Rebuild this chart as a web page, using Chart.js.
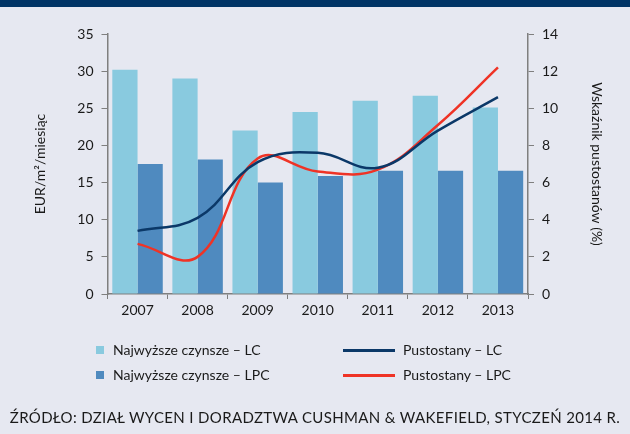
<!DOCTYPE html>
<html>
<head>
<meta charset="utf-8">
<script src="https://cdn.jsdelivr.net/npm/chart.js@4/dist/chart.umd.min.js"></script>
<style>
    html, body {
        margin: 0;
        padding: 0;
        background: #e6e8f1;
        font-family: Lato, sans-serif;
        color: #1a1a1a;
    }
    #wrap {
        position: relative;
        width: 630px;
        height: 434px;
        overflow: hidden;
    }
    #band {
        position: absolute;
        left: 0;
        top: 0;
        width: 630px;
        height: 7px;
        background: #003466;
    }
    canvas {
        position: absolute;
        left: 0;
        top: 0;
    }
    .leg {
        position: absolute;
        font-size: 14px;
        line-height: 16px;
        white-space: nowrap;
    }
    .sw {
        position: absolute;
        top: 4px;
    }
    #source {
        position: absolute;
        left: 0;
        width: 630px;
        top: 408px;
        text-align: center;
        font-size: 15px;
        letter-spacing: 0.35px;
        white-space: nowrap;
    }
</style>
</head>
<body>
<div id="wrap">
    <div id="band"></div>
    <canvas id="chart" width="630" height="434"></canvas>
    <div id="legend"></div>
    <div id="source">ŹRÓDŁO: DZIAŁ WYCEN I DORADZTWA CUSHMAN &amp; WAKEFIELD, STYCZEŃ 2014 R.</div>
</div>
<script>
// data
const years = ['2007', '2008', '2009', '2010', '2011', '2012', '2013']

const rentLC = [30.2, 29.0, 22.0, 24.5, 26.0, 26.7, 25.1]
const rentLPC = [17.5, 18.1, 15.0, 15.9, 16.6, 16.6, 16.6]

const vacancyLC = [3.4, 4.1, 7.1, 7.6, 6.8, 8.8, 10.6]
const vacancyLPC = [2.7, 2.0, 7.3, 6.6, 6.7, 9.1, 12.2]

const rentTicks = [0, 5, 10, 15, 20, 25, 30, 35]
const vacancyTicks = [0, 2, 4, 6, 8, 10, 12, 14]

const labels = [
    'Najwyższe czynsze – LC',
    'Najwyższe czynsze – LPC',
    'Pustostany – LC',
    'Pustostany – LPC'
]

const axisGray = '#7f7f7f'
const font14 = { family: 'Lato, sans-serif', size: 14 }

function fixWidth(w) {
    return function (scale) { scale.width = w }
}

const chart = new Chart(
    document.getElementById('chart'),
    {
        data: {
            labels: years,
            datasets: [
                {
                    type: 'line',
                    label: labels[2],
                    data: vacancyLC,
                    yAxisID: 'y2',
                    borderColor: '#0b3868',
                    backgroundColor: '#0b3868',
                    borderWidth: 2.5,
                    pointRadius: 0,
                    tension: 0.4,
                    order: 0
                },
                {
                    type: 'line',
                    label: labels[3],
                    data: vacancyLPC,
                    yAxisID: 'y2',
                    borderColor: '#ef3326',
                    backgroundColor: '#ef3326',
                    borderWidth: 2.5,
                    pointRadius: 0,
                    tension: 0.4,
                    order: 0
                },
                {
                    type: 'bar',
                    label: labels[0],
                    data: rentLC,
                    yAxisID: 'y',
                    backgroundColor: '#89cadf',
                    categoryPercentage: 0.84,
                    barPercentage: 1,
                    order: 1
                },
                {
                    type: 'bar',
                    label: labels[1],
                    data: rentLPC,
                    yAxisID: 'y',
                    backgroundColor: '#4f8abf',
                    categoryPercentage: 0.84,
                    barPercentage: 1,
                    order: 1
                }
            ]
        },
        options: {
            responsive: false,
            animation: false,
            layout: {
                padding: { left: 0, right: 0, top: 34, bottom: 110 }
            },
            plugins: {
                legend: { display: false },
                tooltip: { enabled: false }
            },
            scales: {
                x: {
                    offset: true,
                    afterFit: function (scale) { scale.height = 30 },
                    grid: {
                        offset: true,
                        drawOnChartArea: false,
                        tickLength: 5,
                        color: axisGray
                    },
                    border: { color: axisGray, width: 1.5 },
                    ticks: { color: '#1a1a1a', font: font14, padding: 3 }
                },
                y: {
                    position: 'left',
                    min: rentTicks[0],
                    max: rentTicks[rentTicks.length - 1],
                    afterFit: fixWidth(107.5),
                    afterBuildTicks: function (scale) {
                        scale.ticks = rentTicks.map(v => ({ value: v }))
                    },
                    grid: {
                        drawOnChartArea: false,
                        tickLength: 6,
                        color: axisGray
                    },
                    border: { color: axisGray, width: 1.5 },
                    ticks: { color: '#1a1a1a', font: font14, padding: 8 },
                    title: {
                        display: true,
                        text: 'EUR/m²/miesiąc',
                        color: '#1a1a1a',
                        font: font14,
                        padding: { top: 32, bottom: 0 }
                    }
                },
                y2: {
                    position: 'right',
                    min: vacancyTicks[0],
                    max: vacancyTicks[vacancyTicks.length - 1],
                    afterFit: fixWidth(102),
                    afterBuildTicks: function (scale) {
                        scale.ticks = vacancyTicks.map(v => ({ value: v }))
                    },
                    grid: {
                        drawOnChartArea: false,
                        tickLength: 6,
                        color: axisGray
                    },
                    border: { color: axisGray, width: 1.5 },
                    ticks: { color: '#1a1a1a', font: font14, padding: 8 },
                    title: {
                        display: true,
                        text: 'Wskaźnik pustostanów (%)',
                        color: '#1a1a1a',
                        font: font14,
                        padding: { top: 25, bottom: 0 }
                    }
                }
            }
        }
    }
)

// two column legend built from the datasets
const legendPos = {}
legendPos[labels[0]] = { x: 96, y: 342, line: false }
legendPos[labels[1]] = { x: 96, y: 367, line: false }
legendPos[labels[2]] = { x: 343, y: 342, line: true }
legendPos[labels[3]] = { x: 343, y: 367, line: true }

const legendEl = document.getElementById('legend')
chart.data.datasets.forEach(function (ds) {
    const p = legendPos[ds.label]
    const item = document.createElement('div')
    item.className = 'leg'
    item.style.left = p.x + 'px'
    item.style.top = p.y + 'px'

    const sw = document.createElement('span')
    sw.className = 'sw'
    sw.style.left = '0px'
    sw.style.background = ds.backgroundColor
    if (p.line) {
        sw.style.width = '52px'
        sw.style.height = '3px'
        sw.style.top = '7px'
    } else {
        sw.style.width = '8px'
        sw.style.height = '8px'
    }
    item.appendChild(sw)

    const txt = document.createElement('span')
    txt.textContent = ds.label
    txt.style.marginLeft = (p.line ? 60 : 17) + 'px'
    item.appendChild(txt)

    legendEl.appendChild(item)
})
</script>
</body>
</html>
